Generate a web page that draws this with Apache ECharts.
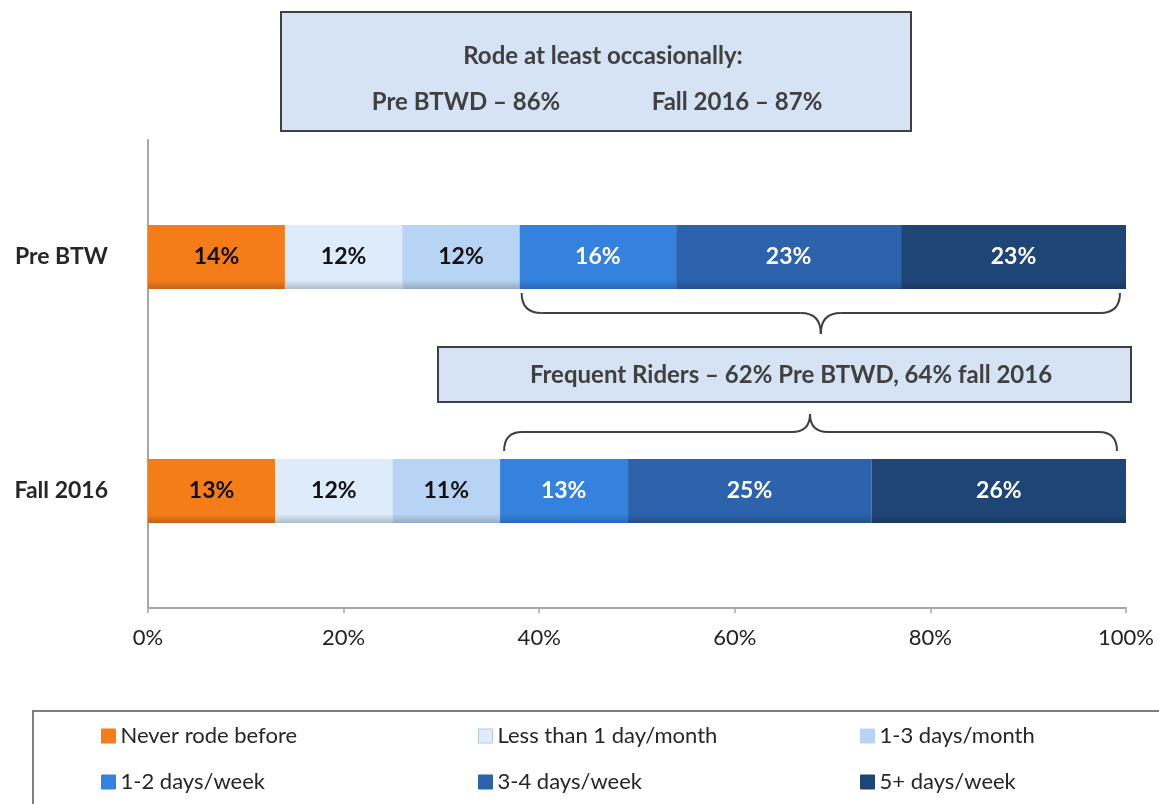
<!DOCTYPE html>
<html>
<head>
<meta charset="utf-8">
<script src="https://cdn.jsdelivr.net/npm/echarts@6/dist/echarts.min.js"></script>
<style>
html,body{margin:0;padding:0;background:#fff;}
#main{width:1159px;height:804px;}
</style>
</head>
<body>
<div id="main"></div>
<script>
// ---- data ----
const categories = ['Pre BTW', 'Fall 2016'];
const seriesNames = ['Never rode before', 'Less than 1 day/month', '1-3 days/month', '1-2 days/week', '3-4 days/week', '5+ days/week'];
const neverRode = [14, 13];
const lessThanMonthly = [12, 12];
const oneToThreeMonthly = [12, 11];
const oneToTwoWeekly = [16, 13];
const threeToFourWeekly = [23, 25];
const fivePlusWeekly = [23, 26];
const xTicks = [0, 20, 40, 60, 80, 100];
const topBoxTitle = 'Rode at least occasionally:';
const topBoxLeft = 'Pre BTWD – 86%';
const topBoxRight = 'Fall 2016 – 87%';
const midBoxText = 'Frequent Riders – 62% Pre BTWD, 64% fall 2016';

const seriesValues = [neverRode, lessThanMonthly, oneToThreeMonthly, oneToTwoWeekly, threeToFourWeekly, fivePlusWeekly];
const colors = ['#F47D1A', '#DDEBFA', '#B8D4F4', '#3482DE', '#2C63AC', '#1F4577'];
const labelColors = ['#111', '#111', '#111', '#fff', '#fff', '#fff'];
const FONT = 'Lato, "Open Sans", sans-serif';

function shade(hex, f) {
  const n = parseInt(hex.slice(1), 16);
  let r = (n >> 16) & 255, g = (n >> 8) & 255, b = n & 255;
  r = Math.round(r * f); g = Math.round(g * f); b = Math.round(b * f);
  return 'rgb(' + r + ',' + g + ',' + b + ')';
}

const chart = echarts.init(document.getElementById('main'), null, {renderer: 'canvas'});

const series = seriesNames.map((name, i) => ({
  name: name,
  type: 'bar',
  stack: 'total',
  barWidth: 64,
  data: seriesValues[i],
  itemStyle: {
    color: {
      type: 'linear', x: 0, y: 0, x2: 0, y2: 1,
      colorStops: [
        {offset: 0, color: colors[i]},
        {offset: 0.86, color: colors[i]},
        {offset: 1, color: shade(colors[i], 0.8)}
      ]
    }
  },
  label: {
    show: true,
    position: 'inside',
    formatter: '{c}%',
    color: labelColors[i],
    fontFamily: FONT,
    fontWeight: 'bold',
    fontSize: 23
  },
  emphasis: {disabled: true}
}));

const legendCols = [101, 478, 860];
const legendRows = [725, 771];
const legends = seriesNames.map((name, i) => ({
  data: [{name: name, itemStyle: {color: colors[i], borderColor: i === 1 ? '#b9c9dc' : colors[i], borderWidth: 1}}],
  left: legendCols[i % 3],
  top: legendRows[Math.floor(i / 3)],
  padding: 0,
  itemWidth: 14,
  itemHeight: 14,
  icon: 'rect',
  selectedMode: false,
  textStyle: {fontFamily: FONT, fontSize: 22, color: '#262626'}
}));

const option = {
  backgroundColor: '#fff',
  animation: false,
  grid: {left: 148, right: 33, top: 140, bottom: 196},
  xAxis: {
    type: 'value',
    min: 0, max: 100, interval: 20,
    axisLine: {show: true, lineStyle: {color: '#a6a6a6', width: 2}},
    axisTick: {show: true, length: 5, lineStyle: {color: '#a6a6a6', width: 1.5}},
    splitLine: {show: false},
    axisLabel: {formatter: '{value}%', fontFamily: FONT, fontSize: 22, color: '#222', margin: 19}
  },
  yAxis: {
    type: 'category',
    data: categories,
    inverse: true,
    axisLine: {show: true, lineStyle: {color: '#a6a6a6', width: 2}},
    axisTick: {show: false},
    axisLabel: {fontFamily: FONT, fontSize: 23, fontWeight: 'bold', color: '#262626', margin: 40}
  },
  legend: legends,
  series: series
};
chart.setOption(option);

// ---- annotations (boxes + brackets) ----
function px(v, cat) { return chart.convertToPixel({gridIndex: 0}, [v, cat]); }
const topFreqStart = neverRode[0] + lessThanMonthly[0] + oneToThreeMonthly[0];
const botFreqStart = neverRode[1] + lessThanMonthly[1] + oneToThreeMonthly[1];
const pTopL = px(topFreqStart, 0), pTopR = px(100, 0);
const pBotL = px(botFreqStart, 1), pBotR = px(100, 1);

const lineStyle = {stroke: '#404040', lineWidth: 2, fill: 'none'};
function bracket(xL, xR, y0, y1, y2, xt, r) {
  return [
    {type: 'bezierCurve', shape: {x1: xL, y1: y0, cpx1: xL, cpy1: y1, x2: xL + r, y2: y1}, style: lineStyle},
    {type: 'line', shape: {x1: xL + r, y1: y1, x2: xt - r, y2: y1}, style: lineStyle},
    {type: 'bezierCurve', shape: {x1: xt - r, y1: y1, cpx1: xt, cpy1: y1, x2: xt, y2: y2}, style: lineStyle},
    {type: 'bezierCurve', shape: {x1: xt, y1: y2, cpx1: xt, cpy1: y1, x2: xt + r, y2: y1}, style: lineStyle},
    {type: 'line', shape: {x1: xt + r, y1: y1, x2: xR - r, y2: y1}, style: lineStyle},
    {type: 'bezierCurve', shape: {x1: xR - r, y1: y1, cpx1: xR, cpy1: y1, x2: xR, y2: y0}, style: lineStyle}
  ];
}

const topL = pTopL[0] + 2, topR = pTopR[0] - 6;
const botL = pBotL[0] + 4, botR = pBotR[0] - 9;

const boxFont = 'bold 24px ' + FONT;
chart.setOption({
  graphic: [
    {type: 'rect', shape: {x: 33, y: 711, width: 1140, height: 110}, style: {fill: 'none', stroke: '#555', lineWidth: 1.5}, z: -1},
    {type: 'rect', shape: {x: 281, y: 12, width: 630, height: 119}, style: {fill: '#D5E3F5', stroke: '#404040', lineWidth: 2}},
    {type: 'text', x: 603, y: 56, style: {text: topBoxTitle, fill: '#404040', font: boxFont, textAlign: 'center', textVerticalAlign: 'middle'}},
    {type: 'text', x: 466, y: 102, style: {text: topBoxLeft, fill: '#404040', font: boxFont, textAlign: 'center', textVerticalAlign: 'middle'}},
    {type: 'text', x: 737, y: 102, style: {text: topBoxRight, fill: '#404040', font: boxFont, textAlign: 'center', textVerticalAlign: 'middle'}},
    {type: 'rect', shape: {x: 438, y: 347, width: 693, height: 55}, style: {fill: '#D5E3F5', stroke: '#404040', lineWidth: 2}},
    {type: 'text', x: 791, y: 375, style: {text: midBoxText, fill: '#404040', font: boxFont, textAlign: 'center', textVerticalAlign: 'middle'}}
  ].concat(
    bracket(topL, topR, 293, 313, 334, (topL + topR) / 2, 20),
    bracket(botL, botR, 451, 432, 414, 810, 18)
  )
});
</script>
</body>
</html>
